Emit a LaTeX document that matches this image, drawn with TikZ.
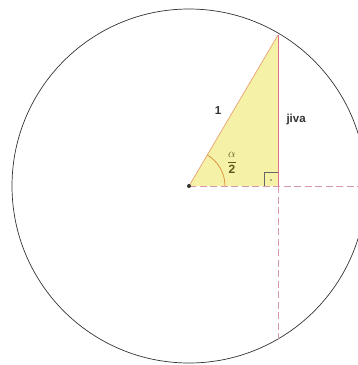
\documentclass[tikz,border=0pt]{standalone}
\usepackage{fontspec}
\setmainfont{Liberation Sans}
\definecolor{trifill}{HTML}{F5F2A8}
\definecolor{hypcol}{HTML}{E8A070}
\definecolor{sidecol}{HTML}{E07090}
\definecolor{dashcol}{HTML}{D898B0}
\definecolor{arccol}{HTML}{D88A30}
\definecolor{fraccol}{HTML}{5A5A20}
\begin{document}
\begin{tikzpicture}[x=1pt,y=-1pt,
  dashline/.style={draw=dashcol, line width=0.8pt, dash pattern=on 7pt off 3.5pt},
  lbl/.style={font=\bfseries\fontsize{11.5}{12}\selectfont, text=black!80}]
\useasboundingbox (0,0) rectangle (358,365);
\clip (0,0) rectangle (358,365);
\coordinate (O) at (189,186);
\coordinate (A) at (278,35);
\coordinate (F) at (278,186);
\coordinate (R) at (358,186);
\coordinate (B) at (278,339);
\fill[trifill] (O) -- (A) -- (F) -- cycle;
\draw[black!80, line width=0.7pt] (O) circle[radius=177];
\draw[dashline] (O) -- (R);
\draw[dashline, line width=0.6pt] (F) -- (B);
\draw[draw=hypcol, line width=0.7pt] (O) -- (A);
\draw[draw=sidecol, line width=0.7pt] (A) -- (F);
\draw[arccol, line width=0.7pt] ([xshift=36]O) arc[start angle=0, end angle=-59.5, radius=36];
\draw[black!60, line width=0.5pt] (264,186) -- (264,172) -- (278,172);
\fill[black!60] (271,180) circle[radius=0.9];
\fill[black!80] (O) circle[radius=2];
\node[lbl] (one) at (218,111) {1};
\node[lbl, anchor=west] (jiva) at (283,120) {jiva};
\node[font=\bfseries\fontsize{12}{13}\selectfont, text=fraccol, inner sep=0pt] (half) at (232,163) {$\displaystyle\frac{\alpha}{\textbf{2}}$};
\end{tikzpicture}
\end{document}
